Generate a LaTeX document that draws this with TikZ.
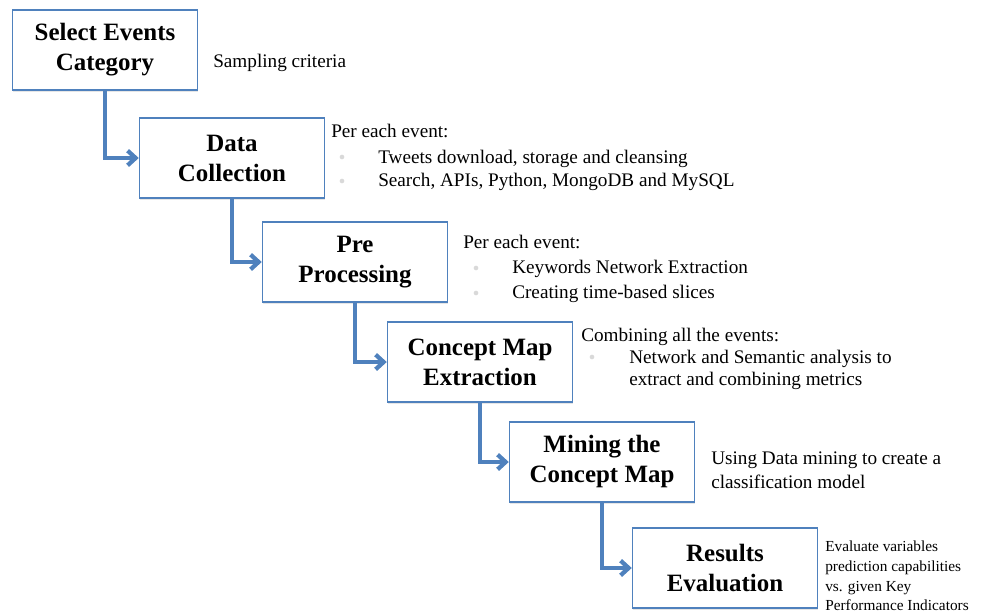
\documentclass[tikz,border=0pt]{standalone}
\usepackage{fontspec}
\setmainfont{Liberation Serif}
\usetikzlibrary{arrows.meta}
\usetikzlibrary{shadows}
\definecolor{stepblue}{RGB}{79,129,189}
\tikzset{
	boxstyle/.style={rectangle,draw=stepblue,line width=1.1pt,fill=white,minimum width=138.75pt,minimum height=60pt,align=center,font=\fontsize{18.7}{22.5}\selectfont\bfseries,drop shadow={opacity=0.2,shadow xshift=0.6pt,shadow yshift=-1.2pt}},
	notestyle/.style={anchor=base west,inner sep=0pt,font=\fontsize{14.4}{17}\selectfont},
	smallnotestyle/.style={anchor=base west,inner sep=0pt,font=\fontsize{11.5}{14}\selectfont},
	dotstyle/.style={circle,fill=black!15,inner sep=0pt,minimum size=3.5pt},
	flowstyle/.style={draw=stepblue,line width=3.2pt,-{Straight Barb[length=6pt,width=11pt]}}
}
\begin{document}
\begin{tikzpicture}[x=0.75pt,y=-0.75pt]
	\useasboundingbox (0,0) rectangle (998,616);
	% steps
	\node[boxstyle] (select) at (105,50) {Select Events\\Category};
	\node[boxstyle] (collect) at (232,158) {Data\\Collection};
	\node[boxstyle] (prep) at (355,262) {Pre\\Processing};
	\node[boxstyle] (extract) at (480,362) {Concept Map\\Extraction};
	\node[boxstyle] (mine) at (602,462) {Mining the\\Concept Map};
	\node[boxstyle] (evaluate) at (725,568) {Results\\Evaluation};
	\draw[flowstyle] (select.south) |- (collect.west);
	\draw[flowstyle] (collect.south) |- (prep.west);
	\draw[flowstyle] (prep.south) |- (extract.west);
	\draw[flowstyle] (extract.south) |- (mine.west);
	\draw[flowstyle] (mine.south) |- (evaluate.west);
	% notes
	\node[notestyle] (sampling) at (213,68) {Sampling criteria};
	\node[notestyle] (collecthead) at (331,138) {Per each event:};
	\node[dotstyle] (collectdot1) at (342,157) {};
	\node[notestyle] (collectitem1) at (378,164) {Tweets download, storage and cleansing};
	\node[dotstyle] (collectdot2) at (342,181) {};
	\node[notestyle] (collectitem2) at (378,187) {Search, APIs, Python, MongoDB and MySQL};
	\node[notestyle] (prephead) at (463,249) {Per each event:};
	\node[dotstyle] (prepdot1) at (476,268) {};
	\node[notestyle] (prepitem1) at (512,274) {Keywords Network Extraction};
	\node[dotstyle] (prepdot2) at (476,293) {};
	\node[notestyle] (prepitem2) at (512,299) {Creating time-based slices};
	\node[notestyle] (extracthead) at (581,341) {Combining all the events:};
	\node[dotstyle] (extractdot1) at (592,357) {};
	\node[notestyle] (extractitem1) at (629,363) {Network and Semantic analysis to};
	\node[notestyle] (extractitem2) at (629,385) {extract and combining metrics};
	\node[notestyle] (mineline1) at (711,464) {Using Data mining to create a};
	\node[notestyle] (mineline2) at (711,488) {classification model};
	\node[smallnotestyle] (evalline1) at (825,551) {Evaluate variables};
	\node[smallnotestyle] (evalline2) at (825,571) {prediction capabilities};
	\node[smallnotestyle] (evalline3) at (825,591) {vs. given Key};
	\node[smallnotestyle] (evalline4) at (825,610) {Performance Indicators};
\end{tikzpicture}
\end{document}
